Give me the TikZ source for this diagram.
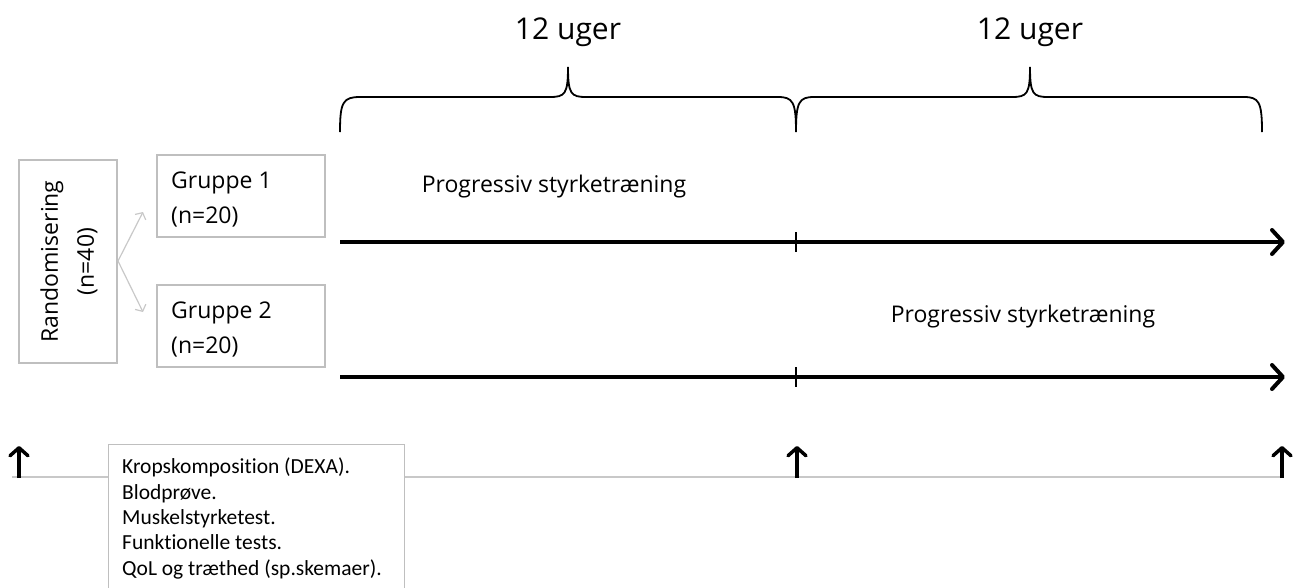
\documentclass[tikz,border=0pt]{standalone}
\usepackage{fontspec}
\setmainfont{Open Sans}
\newfontfamily\calfont[Ligatures=NoCommon]{Carlito}
\usetikzlibrary{arrows.meta}
\definecolor{boxgray}{HTML}{BFBFBF}
\definecolor{thingray}{HTML}{C8C8C8}
\begin{document}
\begin{tikzpicture}[x=1pt,y=-1pt,
  graybox/.style={draw=boxgray,line width=2.5pt,fill=white,inner sep=0pt},
  grpbox/.style={graybox,minimum width=168pt,minimum height=82pt},
  grptext/.style={font=\fontsize{23}{35}\selectfont,align=left,anchor=north west,inner sep=0pt},
  mainline/.style={line width=4pt,-{Straight Barb[length=11pt,width=24pt,line width=4pt,round]}},
  tick/.style={line width=2pt},
  brace/.style={line width=1.8pt},
  uparrow/.style={line width=3.5pt,-{Straight Barb[length=8pt,width=18pt,line width=3.5pt,round]}},
  splitarrow/.style={draw=thingray,line width=1.2pt,-{Straight Barb[length=5pt,width=12pt]}},
  lbl/.style={font=\fontsize{23}{28}\selectfont,inner sep=0pt,anchor=base},
  weeks/.style={font=\fontsize{30}{36}\selectfont,inner sep=0pt,anchor=base}
]
\useasboundingbox (0,0) rectangle (1301,587);

% randomisation box
\node[graybox,minimum width=98pt,minimum height=203pt] (rand) at (68,261.5) {};
\node[rotate=90,align=center,font=\fontsize{23}{36}\selectfont,inner sep=0pt] (randtxt) at (69,261.5) {Randomisering\\(n=40)};

% group boxes
\node[grpbox] (g1) at (241,196) {};
\node[grpbox] (g2) at (241,326) {};
\node[grptext] (g1t) at (171,172) {Gruppe 1\\(n=20)};
\node[grptext] (g2t) at (171,302) {Gruppe 2\\(n=20)};

% split arrows
\coordinate (split) at (118,261);
\coordinate (a1) at (143,212);
\coordinate (a2) at (143,312);
\draw[splitarrow] (split) -- (a1);
\draw[splitarrow] (split) -- (a2);

% main time lines
\coordinate (l1s) at (340,242);
\coordinate (l1e) at (1285,242);
\coordinate (l2s) at (340,377);
\coordinate (l2e) at (1285,377);
\draw[mainline] (l1s) -- (l1e);
\draw[mainline] (l2s) -- (l2e);
\coordinate (t1a) at (796,232);
\coordinate (t1b) at (796,252);
\coordinate (t2a) at (796,367);
\coordinate (t2b) at (796,387);
\draw[tick] (t1a) -- (t1b);
\draw[tick] (t2a) -- (t2b);

% labels
\node[lbl] (p1) at (554,192) {Progressiv styrketræning};
\node[lbl] (p2) at (1023,322) {Progressiv styrketræning};

% braces
\draw[brace] (340,132) .. controls (340,102) and (343,97) .. (360,97)
  -- (550,97) .. controls (565,97) and (568,94) .. (568,67)
  .. controls (568,94) and (571,97) .. (586,97)
  -- (778,97) .. controls (793,97) and (796,102) .. (796,132)
  .. controls (796,102) and (799,97) .. (814,97)
  -- (1012,97) .. controls (1027,97) and (1030,94) .. (1030,67)
  .. controls (1030,94) and (1033,97) .. (1048,97)
  -- (1244,97) .. controls (1259,97) and (1262,102) .. (1262,132);
\node[weeks] (w1) at (568,39) {12 uger};
\node[weeks] (w2) at (1030,39) {12 uger};

% bottom timeline
\coordinate (b0) at (12,477);
\coordinate (bE) at (1283,477);
\draw[draw=thingray,line width=1.5pt] (b0) -- (bE);
\coordinate (u1s) at (19,478);
\coordinate (u1e) at (19,446);
\coordinate (u2s) at (797,478);
\coordinate (u2e) at (797,446);
\coordinate (u3s) at (1282,478);
\coordinate (u3e) at (1282,446);
\draw[uparrow] (u1s) -- (u1e);
\draw[uparrow] (u2s) -- (u2e);
\draw[uparrow] (u3s) -- (u3e);

% test box
\node[draw=boxgray,line width=0.8pt,fill=white,minimum width=296pt,minimum height=160pt,anchor=north west] (tb) at (108,444) {};
\node[anchor=north west,align=left,inner sep=0pt,font=\calfont\fontsize{21.5}{25.3}\selectfont] (tbt) at (122,458)
 {Kropskomposition (DEXA).\\Blodprøve.\\Muskelstyrketest.\\Funktionelle tests.\\QoL og træthed (sp.skemaer).};
\end{tikzpicture}
\end{document}
